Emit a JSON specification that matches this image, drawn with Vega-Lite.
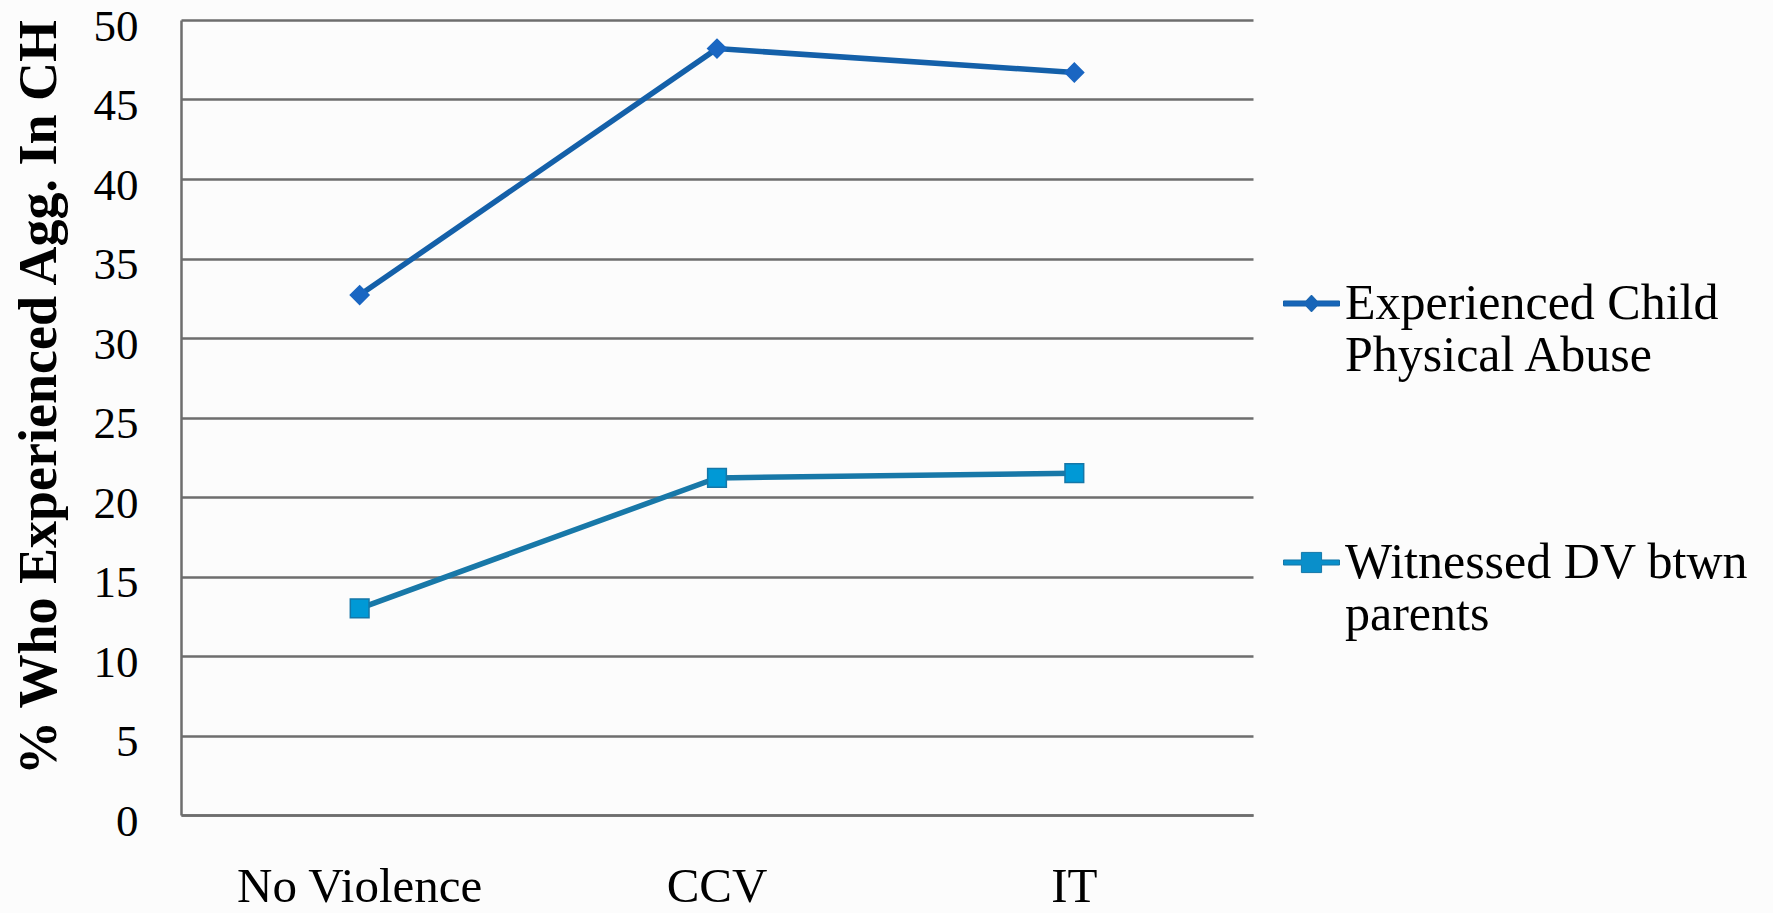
{
  "$schema": "https://vega.github.io/schema/vega-lite/v6.json",
  "width": 1072,
  "height": 795,
  "autosize": {"type": "none"},
  "padding": {"left": 181, "top": 20, "right": 520, "bottom": 98},
  "background": "#fcfcfc",
  "config": {
    "view": {"stroke": null},
    "font": "Liberation Serif"
  },
  "data": {
    "values": [
      {"group": "No Violence", "series": "Experienced Child|Physical Abuse", "value": 32.7},
      {"group": "CCV", "series": "Experienced Child|Physical Abuse", "value": 48.2},
      {"group": "IT", "series": "Experienced Child|Physical Abuse", "value": 46.7},
      {"group": "No Violence", "series": "Witnessed DV btwn|parents", "value": 13.0},
      {"group": "CCV", "series": "Witnessed DV btwn|parents", "value": 21.2},
      {"group": "IT", "series": "Witnessed DV btwn|parents", "value": 21.5}
    ]
  },
  "encoding": {
    "x": {
      "field": "group",
      "type": "nominal",
      "sort": ["No Violence", "CCV", "IT"],
      "scale": {"type": "band", "paddingInner": 0, "paddingOuter": 0},
      "axis": {
        "title": null,
        "labelAngle": 0,
        "labelFont": "Liberation Serif",
        "labelFontSize": 49,
        "labelColor": "#000000",
        "labelPadding": 47,
        "labelBaseline": "top",
        "labelLimit": 500,
        "ticks": false,
        "grid": false,
        "domainColor": "#6e6e6e",
        "domainWidth": 2.5
      }
    },
    "y": {
      "field": "value",
      "type": "quantitative",
      "scale": {"domain": [0, 50], "nice": false, "zero": true},
      "axis": {
        "title": "% Who Experienced Agg. In CH",
        "titleFont": "Liberation Serif",
        "titleFontSize": 54,
        "titleFontWeight": "bold",
        "titleColor": "#000000",
        "titleX": -126,
        "titleY": 377,
        "titleAngle": -90,
        "titleAlign": "center",
        "titleBaseline": "alphabetic",
        "values": [0, 5, 10, 15, 20, 25, 30, 35, 40, 45, 50],
        "labelFont": "Liberation Serif",
        "labelFontSize": 45,
        "labelColor": "#000000",
        "labelPadding": 43,
        "labelOffset": 6,
        "ticks": false,
        "grid": true,
        "gridColor": "#6e6e6e",
        "gridWidth": 2.5,
        "domainColor": "#6e6e6e",
        "domainWidth": 2.5
      }
    }
  },
  "layer": [
    {
      "mark": {"type": "line", "strokeWidth": 5.5},
      "encoding": {
        "detail": {"field": "series", "type": "nominal"},
        "color": {
          "condition": {"test": "datum.series === 'Witnessed DV btwn|parents'", "value": "#1878A8"},
          "value": "#1460A9"
        }
      }
    },
    {
      "mark": {"type": "point", "filled": true, "opacity": 1, "strokeWidth": 1.5, "size": 350},
      "encoding": {
        "shape": {
          "condition": {"test": "datum.series === 'Witnessed DV btwn|parents'", "value": "square"},
          "value": "diamond"
        },
        "fill": {
          "condition": {"test": "datum.series === 'Witnessed DV btwn|parents'", "value": "#0099D6"},
          "value": "#1A66C2"
        },
        "stroke": {
          "condition": {"test": "datum.series === 'Witnessed DV btwn|parents'", "value": "#1577A8"},
          "value": "#1A66C2"
        }
      }
    },
    {
      "mark": {"type": "point", "filled": true, "opacity": 0, "size": 30},
      "encoding": {
        "shape": {
          "field": "series",
          "type": "nominal",
          "scale": {
            "domain": ["Experienced Child|Physical Abuse", "Witnessed DV btwn|parents"],
            "range": [
              "M-1,-0.09 L-0.2,-0.09 L0,-0.3 L0.2,-0.09 L1,-0.09 L1,0.09 L0.2,0.09 L0,0.3 L-0.2,0.09 L-1,0.09 Z",
              "M-1,-0.09 L-0.36,-0.09 L-0.36,-0.36 L0.36,-0.36 L0.36,-0.09 L1,-0.09 L1,0.09 L0.36,0.09 L0.36,0.36 L-0.36,0.36 L-0.36,0.09 L-1,0.09 Z"
            ]
          },
          "legend": {
            "title": null,
            "orient": "none",
            "legendX": 1102,
            "legendY": 255,
            "direction": "vertical",
            "padding": 0,
            "rowPadding": 153,
            "labelFont": "Liberation Serif",
            "labelFontSize": 50,
            "labelColor": "#000000",
            "labelLimit": 700,
            "labelOffset": 5,
            "labelExpr": "split(datum.label, '|')",
            "symbolSize": 3136,
            "symbolOpacity": 1,
            "symbolStrokeWidth": 1
          }
        },
        "fill": {
          "field": "series",
          "type": "nominal",
          "scale": {"domain": ["Experienced Child|Physical Abuse", "Witnessed DV btwn|parents"], "range": ["#1765B8", "#0A8FCA"]}
        },
        "stroke": {
          "field": "series",
          "type": "nominal",
          "scale": {"domain": ["Experienced Child|Physical Abuse", "Witnessed DV btwn|parents"], "range": ["#1460A9", "#1577A8"]}
        }
      }
    }
  ]
}
